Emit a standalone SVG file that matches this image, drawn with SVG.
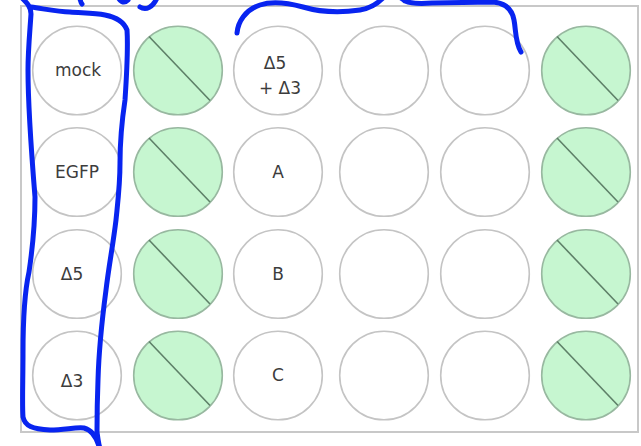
<svg xmlns="http://www.w3.org/2000/svg" width="641" height="446" viewBox="0 0 641 446">
<style>
.well{fill:#ffffff;stroke:#c4c4c4;stroke-width:1.6}
.g{fill:#c6f6d0;stroke:#98b8a0;stroke-width:1.6}
.slash{stroke:#5e8068;stroke-width:1.6}
.t{font-family:"DejaVu Sans",Verdana,sans-serif;font-size:17px;fill:#3c3c3c;text-anchor:middle}
.ink{fill:none;stroke:#0824f0;stroke-width:5;stroke-linecap:round;stroke-linejoin:round}
</style>
<defs>
<g id="gw"><circle class="g" cx="0" cy="0" r="44.3"/><line class="slash" x1="-29" y1="-34" x2="32" y2="30"/></g>
</defs>
<rect width="641" height="446" fill="#ffffff"/>
<rect id="plate" x="21" y="6" width="617" height="426" fill="#ffffff" stroke="#c8c8c8" stroke-width="2"/>
<g id="wells">
<g id="w-a1"><circle class="well" cx="77" cy="70.5" r="44.3"/><text class="t" x="78" y="76">mock</text></g>
<g id="w-a2"><use href="#gw" x="178" y="70.5"/></g>
<g id="w-a3"><circle class="well" cx="278" cy="70.5" r="44.3"/><text class="t" x="275" y="69">Δ5</text><text class="t" x="280" y="94">+ Δ3</text></g>
<g id="w-a4"><circle class="well" cx="384" cy="70.5" r="44.3"/></g>
<g id="w-a5"><circle class="well" cx="485" cy="70.5" r="44.3"/></g>
<g id="w-a6"><use href="#gw" x="586" y="70.5"/></g>
<g id="w-b1"><circle class="well" cx="77" cy="172" r="44.3"/><text class="t" x="77" y="178">EGFP</text></g>
<g id="w-b2"><use href="#gw" x="178" y="172"/></g>
<g id="w-b3"><circle class="well" cx="278" cy="172" r="44.3"/><text class="t" x="278" y="178">A</text></g>
<g id="w-b4"><circle class="well" cx="384" cy="172" r="44.3"/></g>
<g id="w-b5"><circle class="well" cx="485" cy="172" r="44.3"/></g>
<g id="w-b6"><use href="#gw" x="586" y="172"/></g>
<g id="w-c1"><circle class="well" cx="77" cy="274" r="44.3"/><text class="t" x="72" y="280">Δ5</text></g>
<g id="w-c2"><use href="#gw" x="178" y="274"/></g>
<g id="w-c3"><circle class="well" cx="278" cy="274" r="44.3"/><text class="t" x="278" y="280">B</text></g>
<g id="w-c4"><circle class="well" cx="384" cy="274" r="44.3"/></g>
<g id="w-c5"><circle class="well" cx="485" cy="274" r="44.3"/></g>
<g id="w-c6"><use href="#gw" x="586" y="274"/></g>
<g id="w-d1"><circle class="well" cx="77" cy="375.5" r="44.3"/><text class="t" x="72" y="387">Δ3</text></g>
<g id="w-d2"><use href="#gw" x="178" y="375.5"/></g>
<g id="w-d3"><circle class="well" cx="278" cy="375.5" r="44.3"/><text class="t" x="278" y="381">C</text></g>
<g id="w-d4"><circle class="well" cx="384" cy="375.5" r="44.3"/></g>
<g id="w-d5"><circle class="well" cx="485" cy="375.5" r="44.3"/></g>
<g id="w-d6"><use href="#gw" x="586" y="375.5"/></g>
</g>
<g id="ink">
<path class="ink" d="M20,-4 C26,2 31,6 31,14 C30,30 28,50 28,70 C28,110 32,160 35,197 C35,215 33,245 29,272 C25,290 23,320 23,353 C23,380 22,405 23,417 C25,426 32,429 50,430 C65,430 75,427 84,428 C92,430 97,437 100,450"/>
<path class="ink" d="M31,7 C45,9 58,12 70,12 C82,13 95,13 105,15 C115,17 124,22 127,30 C128,45 127,70 125,100 C122,120 120,140 120,163 C120,185 118,200 116,220 C113,245 109,265 106,290 C102,320 99,345 98,380 C97,405 97,420 97,432 C98,440 99,445 100,450"/>
<path class="ink" d="M79,-6 C80,0 81,3 82,4 M117,-6 C119,2 124,4 128,0 M140,7 C146,11 153,7 157,-2"/>
<path class="ink" d="M237,33 C238,22 245,10 260,5 C272,1 288,3 303,7 C320,12 340,13 360,10 C372,8 378,3 383,-2 C390,-7 398,-5 405,1 C412,4 420,4 432,3 L493,2 C505,3 512,9 514,20 C516,30 515,42 521,52"/>
</g>
</svg>
